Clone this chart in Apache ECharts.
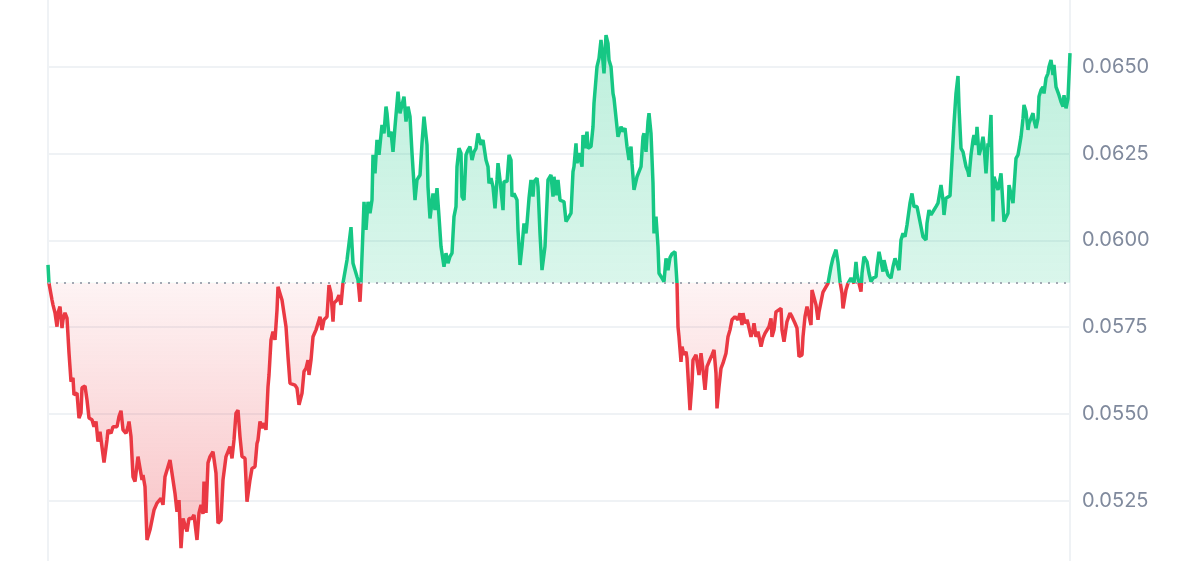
<!DOCTYPE html>
<html>
<head>
<meta charset="utf-8">
<script src="https://cdn.jsdelivr.net/npm/echarts@6/dist/echarts.min.js"></script>
<style>
  html, body { margin: 0; padding: 0; background: #fff; }
  #main { width: 1200px; height: 561px; }
</style>
</head>
<body>
<div id="main"></div>
<script>
// minutes since the first quote
var minutes = [
  0,1,4,5,7,9,10,12,14,15,
  17,19,21,23,25,26,29,31,33,34,
  37,39,41,44,46,48,50,52,54,56,
  59,60,63,65,67,69,71,73,75,78,
  80,81,83,85,87,89,90,92,94,95,
  97,99,102,104,106,109,111,113,115,117,
  119,122,124,127,129,131,133,135,137,139,
  141,144,146,149,151,153,155,156,158,160,
  162,165,168,170,173,175,178,180,182,184,
  186,188,190,192,194,197,199,202,204,207,
  209,210,212,214,216,218,220,221,223,225,
  227,229,230,232,234,235,238,240,242,244,
  247,249,251,254,256,258,260,261,263,265,
  268,270,272,274,276,279,281,283,285,286,
  289,291,293,295,297,299,303,305,309,310,
  312,313,315,316,318,320,322,324,325,327,
  329,331,333,334,336,338,339,341,343,345,
  347,350,352,354,356,358,360,362,364,367,
  369,372,374,376,379,380,382,385,387,389,
  391,393,395,396,398,400,402,404,406,408,
  409,411,413,414,416,418,420,422,424,426,
  428,430,431,433,435,438,440,441,443,445,
  447,449,450,452,455,456,459,461,463,464,
  466,469,470,472,474,476,478,479,481,483,
  485,486,489,490,492,494,495,497,499,500,
  503,505,506,508,510,512,514,516,518,520,
  523,525,526,528,529,531,534,535,537,539,
  540,543,545,546,549,551,553,554,556,558,
  560,561,563,565,566,568,570,571,573,575,
  577,579,581,583,584,586,589,591,593,595,
  596,598,600,601,603,605,606,608,610,611,
  614,616,618,620,622,624,627,629,630,631,
  633,634,636,638,639,642,644,645,648,650,
  651,653,655,657,659,661,664,666,668,669,
  671,673,675,678,680,682,684,687,689,690,
  692,694,695,697,699,700,703,705,706,708,
  710,713,715,717,719,721,723,724,726,728,
  730,733,734,736,738,739,742,744,747,749,
  751,754,755,757,759,761,763,764,766,768,
  770,771,773,775,778,780,783,785,788,790,
  792,794,795,798,800,803,805,806,808,809,
  811,813,814,816,819,821,823,825,828,829,
  831,833,835,836,838,840,843,845,847,849,
  851,853,855,857,859,860,862,864,866,869,
  871,873,875,878,879,881,883,885,888,890,
  891,893,895,896,898,900,902,904,906,908,
  910,911,913,915,916,918,920,921,923,925,
  926,928,929,931,933,935,936,938,940,941,
  943,945,946,948,950,951,953,955,956,958,
  960,961,963,965,966,968,970,971,973,975,
  976,978,980,981,983,985,986,988,990,991,
  993,995,996,998,1000,1001,1003,1005,1006,1008,
  1010,1011,1013,1015,1016,1018,1020,1022
];

var prices = [
  0.05929,0.05876,0.05828,0.05814,0.05791,0.05751,0.05791,0.05809,0.05747,0.05771,
  0.05791,0.05776,0.05676,0.05593,0.05604,0.05555,0.05560,0.05488,0.05503,0.05575,
  0.05580,0.05540,0.05488,0.05483,0.05463,0.05478,0.05420,0.05449,0.05444,0.05360,
  0.05425,0.05454,0.05444,0.05463,0.05468,0.05463,0.05492,0.05509,0.05454,0.05444,
  0.05463,0.05478,0.05434,0.05319,0.05305,0.05310,0.05377,0.05343,0.05310,0.05324,
  0.05290,0.05137,0.05166,0.05171,0.05223,0.05243,0.05238,0.05257,0.05238,0.05319,
  0.05321,0.05367,0.05329,0.05271,0.05218,0.05252,0.05113,0.05199,0.05204,0.05161,
  0.05199,0.05199,0.05209,0.05137,0.05215,0.05238,0.05212,0.05305,0.05215,0.05359,
  0.05377,0.05391,0.05329,0.05185,0.05194,0.05310,0.05377,0.05382,0.05406,0.05372,
  0.05425,0.05502,0.05511,0.05434,0.05377,0.05372,0.05247,0.05310,0.05343,0.05348,
  0.05415,0.05425,0.05478,0.05459,0.05473,0.05454,0.05578,0.05612,0.05713,0.05737,
  0.05713,0.05799,0.05866,0.05847,0.05828,0.05833,0.05751,0.05665,0.05588,0.05583,
  0.05583,0.05574,0.05526,0.05559,0.05622,0.05631,0.05655,0.05612,0.05655,0.05722,
  0.05742,0.05747,0.05780,0.05742,0.05771,0.05780,0.05871,0.05847,0.05766,0.05819,
  0.05828,0.05842,0.05814,0.05877,0.05881,0.05943,0.06038,0.05934,0.05895,0.05886,
  0.05823,0.05880,0.06030,0.06111,0.06030,0.06111,0.06078,0.06116,0.06246,0.06193,
  0.06289,0.06246,0.06251,0.06332,0.06308,0.06385,0.06366,0.06298,0.06313,0.06255,
  0.06327,0.06428,0.06366,0.06361,0.06414,0.06342,0.06385,0.06356,0.06251,0.06116,
  0.06174,0.06188,0.06279,0.06356,0.06275,0.06154,0.06063,0.06135,0.06087,0.06150,
  0.06068,0.05982,0.05986,0.05924,0.05963,0.05934,0.05953,0.05963,0.06068,0.06097,
  0.06212,0.06265,0.06251,0.06126,0.06116,0.06246,0.06260,0.06270,0.06231,0.06255,
  0.06265,0.06308,0.06308,0.06275,0.06289,0.06231,0.06212,0.06164,0.06179,0.06154,
  0.06092,0.06174,0.06222,0.06174,0.06087,0.06169,0.06169,0.06246,0.06231,0.06126,
  0.06135,0.06116,0.06030,0.05929,0.05982,0.06049,0.06020,0.06049,0.06121,0.06174,
  0.06126,0.06169,0.06179,0.06154,0.06020,0.05914,0.05910,0.05982,0.05986,0.06174,
  0.06188,0.06126,0.06183,0.06130,0.06174,0.06116,0.06116,0.06111,0.06054,0.06063,
  0.06078,0.06198,0.06212,0.06279,0.06222,0.06251,0.06212,0.06303,0.06265,0.06313,
  0.06265,0.06270,0.06327,0.06395,0.06500,0.06524,0.06577,0.06548,0.06481,0.06591,
  0.06567,0.06519,0.06500,0.06423,0.06409,0.06414,0.06298,0.06308,0.06327,0.06313,
  0.06323,0.06270,0.06231,0.06270,0.06222,0.06145,0.06183,0.06188,0.06212,0.06298,
  0.06308,0.06255,0.06342,0.06366,0.06308,0.06164,0.06020,0.06068,0.05982,0.05905,
  0.05891,0.05881,0.05948,0.05914,0.05950,0.05961,0.05967,0.05876,0.05751,0.05722,
  0.05650,0.05694,0.05670,0.05679,0.05660,0.05511,0.05588,0.05655,0.05670,0.05675,
  0.05612,0.05675,0.05626,0.05569,0.05636,0.05650,0.05670,0.05684,0.05617,0.05516,
  0.05578,0.05631,0.05646,0.05675,0.05722,0.05742,0.05771,0.05780,0.05785,0.05771,
  0.05790,0.05756,0.05790,0.05761,0.05771,0.05761,0.05722,0.05742,0.05761,0.05722,
  0.05737,0.05694,0.05718,0.05732,0.05737,0.05751,0.05775,0.05722,0.05742,0.05794,
  0.05799,0.05804,0.05742,0.05708,0.05708,0.05766,0.05790,0.05780,0.05761,0.05747,
  0.05665,0.05670,0.05722,0.05780,0.05809,0.05804,0.05756,0.05857,0.05852,0.05814,
  0.05771,0.05794,0.05799,0.05851,0.05866,0.05876,0.05924,0.05949,0.05973,0.05937,
  0.05881,0.05847,0.05804,0.05857,0.05876,0.05891,0.05891,0.05876,0.05938,0.05905,
  0.05876,0.05852,0.05905,0.05953,0.05938,0.05905,0.05881,0.05891,0.05895,0.05924,
  0.05967,0.05963,0.05910,0.05943,0.05919,0.05900,0.05891,0.05924,0.05948,0.05943,
  0.05914,0.06001,0.06020,0.06010,0.06044,0.06049,0.06107,0.06135,0.06097,0.06097,
  0.06068,0.06039,0.06010,0.06001,0.06049,0.06087,0.06073,0.06068,0.06097,0.06107,
  0.06107,0.06159,0.06116,0.06073,0.06121,0.06126,0.06128,0.06231,0.06337,0.06423,
  0.06473,0.06385,0.06265,0.06255,0.06260,0.06212,0.06198,0.06183,0.06246,0.06289,
  0.06303,0.06275,0.06327,0.06246,0.06265,0.06298,0.06275,0.06193,0.06279,0.06270,
  0.06361,0.06054,0.06183,0.06188,0.06145,0.06145,0.06193,0.06193,0.06054,0.06058,
  0.06078,0.06159,0.06164,0.06107,0.06111,0.06236,0.06246,0.06241,0.06298,0.06351,
  0.06390,0.06370,0.06318,0.06337,0.06332,0.06366,0.06346,0.06323,0.06351,0.06414,
  0.06433,0.06442,0.06423,0.06467,0.06481,0.06500,0.06519,0.06476,0.06505,0.06442,
  0.06438,0.06418,0.06399,0.06385,0.06418,0.06380,0.06409,0.06539
];

var openPrice = 0.05878;
var yTicks = [0.0525, 0.0550, 0.0575, 0.0600, 0.0625, 0.0650];
var yMin = 0.050763;
var yMax = 0.066921;

var upColor = '#16c784';
var downColor = '#ea3943';

var myChart = echarts.init(document.getElementById('main'));
var data = minutes.map(function (m, i) { return [m, prices[i]]; });
// where the open price falls, as a fraction of the plot height
var basePos = (yMax - openPrice) / (yMax - yMin);

var sideLine = { show: true, onZero: false, lineStyle: { color: '#eff2f5', width: 2 } };

myChart.setOption({
    animation: false,
    grid: { left: 48, right: 130, top: 0, bottom: 0 },
    xAxis: {
        type: 'value',
        min: 0,
        max: minutes[minutes.length - 1],
        show: false
    },
    yAxis: [{
        type: 'value',
        position: 'right',
        min: yMin,
        max: yMax,
        axisLine: sideLine,
        axisTick: { show: false, customValues: yTicks },
        axisLabel: {
            customValues: yTicks,
            formatter: function (v) { return v.toFixed(4); },
            color: '#808a9d',
            fontSize: 20,
            fontFamily: 'Inter',
            margin: 12
        },
        splitLine: { show: true, lineStyle: { color: '#eff2f5', width: 2 } }
    }, {
        type: 'value',
        position: 'left',
        min: yMin,
        max: yMax,
        axisLine: sideLine,
        axisTick: { show: false },
        axisLabel: { show: false },
        splitLine: { show: false }
    }],
    visualMap: {
        show: false,
        type: 'piecewise',
        seriesIndex: 0,
        dimension: 1,
        pieces: [
            { gt: 0, lt: openPrice, color: downColor },
            { gte: openPrice, lte: 1, color: upColor }
        ]
    },
    series: [{
        type: 'line',
        data: data,
        showSymbol: false,
        lineStyle: { width: 3.5 },
        areaStyle: {
            origin: openPrice,
            opacity: 1,
            color: new echarts.graphic.LinearGradient(0, 0, 0, 561, [
                { offset: 0, color: 'rgba(22,199,132,0.30)' },
                { offset: basePos, color: 'rgba(22,199,132,0.16)' },
                { offset: basePos, color: 'rgba(234,57,67,0.06)' },
                { offset: 1, color: 'rgba(234,57,67,0.32)' }
            ], true)
        },
        markLine: {
            silent: true,
            symbol: 'none',
            precision: 6,
            label: { show: false },
            lineStyle: { color: '#a3a8b3', type: [2, 6], width: 2 },
            data: [{ yAxis: openPrice }]
        }
    }]
});
</script>
</body>
</html>
